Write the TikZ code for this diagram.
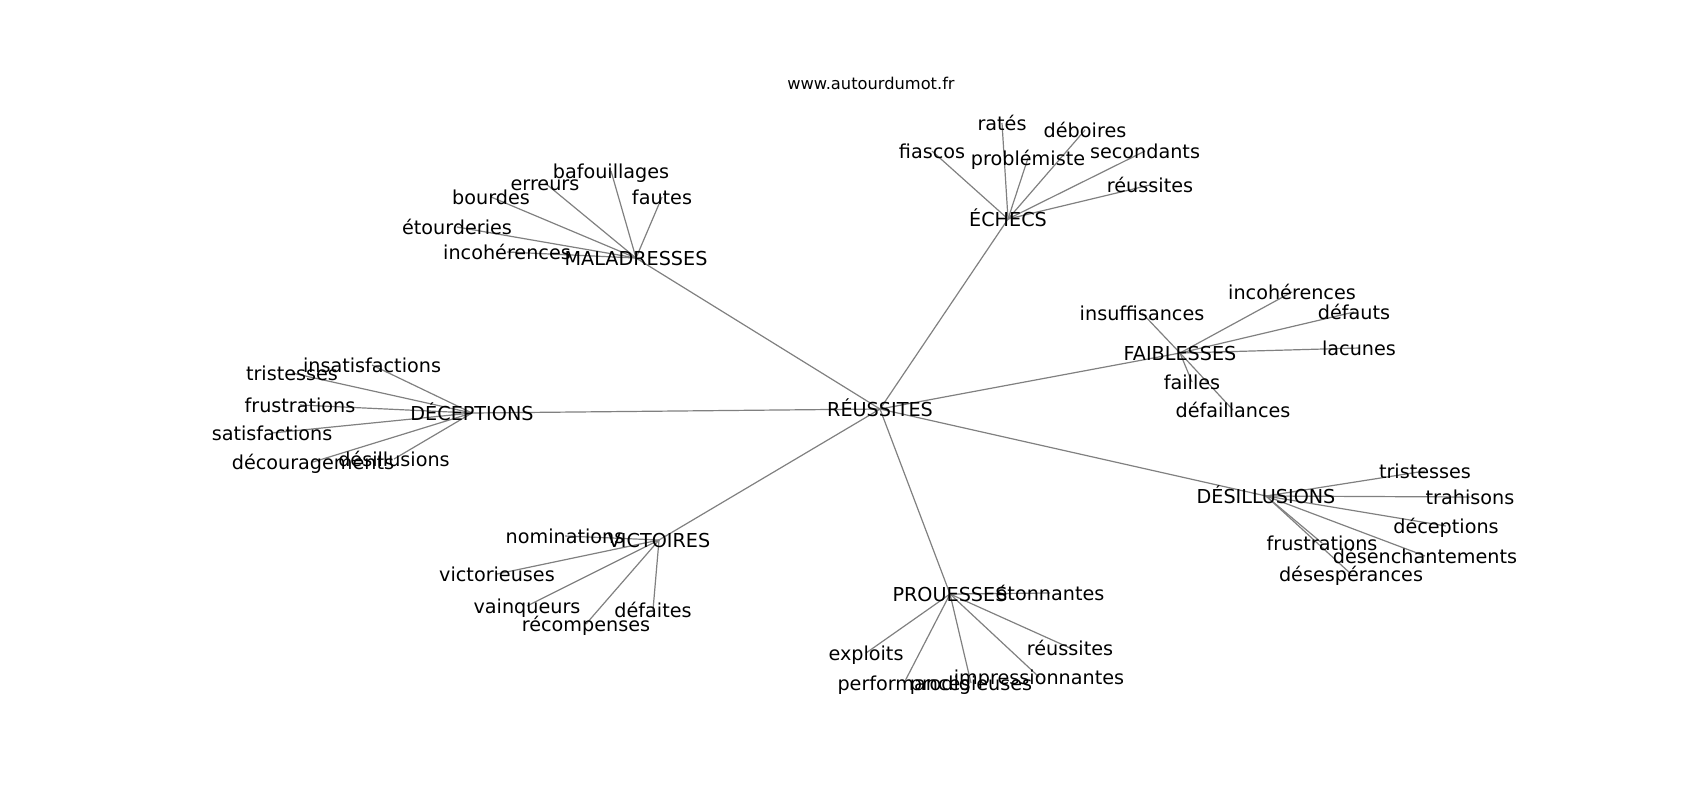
\documentclass[tikz,border=0pt]{standalone}
\usepackage{fontspec}
\setmainfont{DejaVu Sans}
\usetikzlibrary{backgrounds}
\tikzset{
  word/.style={inner sep=0pt, font=\fontsize{9.6}{11}\selectfont, text height=0.73em, text depth=0pt},
  edge/.style={draw=gray, line width=0.6pt},
}
\begin{document}
\begin{tikzpicture}[x=0.5pt,y=-0.5pt]
\useasboundingbox (0,0) rectangle (1700,800);
% title
\node[inner sep=0pt, font=\fontsize{8.13}{10}\selectfont, text height=0.73em, text depth=0pt] (site) at (871,82) {www.autourdumot.fr};
% hub
\node[word] (reu) at (880,409) {RÉUSSITES};
% groups
\node[word] (ech) at (1008,219) {ÉCHECS};
\node[word] (mal) at (636,258) {MALADRESSES};
\node[word] (dec) at (472,413) {DÉCEPTIONS};
\node[word] (fai) at (1180,353) {FAIBLESSES};
\node[word] (des) at (1266,496) {DÉSILLUSIONS};
\node[word] (vic) at (659,540) {VICTOIRES};
\node[word] (pro) at (950,594) {PROUESSES};
% leaves of ECHECS
\node[word] (ech-fia) at (932,151) {fiascos};
\node[word] (ech-rat) at (1002,123) {ratés};
\node[word] (ech-pro) at (1028,158) {problémiste};
\node[word] (ech-deb) at (1085,130) {déboires};
\node[word] (ech-sec) at (1145,151) {secondants};
\node[word] (ech-reu) at (1150,185) {réussites};
% leaves of MALADRESSES
\node[word] (mal-baf) at (611,171) {bafouillages};
\node[word] (mal-err) at (545,183) {erreurs};
\node[word] (mal-fau) at (662,197) {fautes};
\node[word] (mal-bou) at (491,197) {bourdes};
\node[word] (mal-eto) at (457,227) {étourderies};
\node[word] (mal-inc) at (507,252) {incohérences};
% leaves of DECEPTIONS
\node[word] (dec-ins) at (372,365) {insatisfactions};
\node[word] (dec-tri) at (292,373) {tristesses};
\node[word] (dec-fru) at (300,405) {frustrations};
\node[word] (dec-sat) at (272,433) {satisfactions};
\node[word] (dec-dec) at (313,462) {découragements};
\node[word] (dec-des) at (394,459) {désillusions};
% leaves of FAIBLESSES
\node[word] (fai-inc) at (1292,292) {incohérences};
\node[word] (fai-ins) at (1142,313) {insuffisances};
\node[word] (fai-def) at (1354,312) {défauts};
\node[word] (fai-lac) at (1359,348) {lacunes};
\node[word] (fai-fai) at (1192,382) {failles};
\node[word] (fai-dfa) at (1233,410) {défaillances};
% leaves of DESILLUSIONS
\node[word] (des-tri) at (1425,471) {tristesses};
\node[word] (des-tra) at (1470,497) {trahisons};
\node[word] (des-dec) at (1446,526) {déceptions};
\node[word] (des-fru) at (1322,543) {frustrations};
\node[word] (des-den) at (1425,556) {désenchantements};
\node[word] (des-des) at (1351,574) {désespérances};
% leaves of VICTOIRES
\node[word] (vic-nom) at (565,536) {nominations};
\node[word] (vic-vic) at (497,574) {victorieuses};
\node[word] (vic-vai) at (527,606) {vainqueurs};
\node[word] (vic-rec) at (586,624) {récompenses};
\node[word] (vic-def) at (653,610) {défaites};
% leaves of PROUESSES
\node[word] (pro-eto) at (1050,593) {étonnantes};
\node[word] (pro-exp) at (866,653) {exploits};
\node[word] (pro-reu) at (1070,648) {réussites};
\node[word] (pro-per) at (904,683) {performances};
\node[word] (pro-pro) at (971,683) {prodigieuses};
\node[word] (pro-imp) at (1039,677) {impressionnantes};
% edges
\begin{scope}[on background layer]
\draw[edge] (reu.center) -- (ech.center);
\draw[edge] (reu.center) -- (mal.center);
\draw[edge] (reu.center) -- (dec.center);
\draw[edge] (reu.center) -- (fai.center);
\draw[edge] (reu.center) -- (des.center);
\draw[edge] (reu.center) -- (vic.center);
\draw[edge] (reu.center) -- (pro.center);
\draw[edge] (ech.center) -- (ech-fia.center);
\draw[edge] (ech.center) -- (ech-rat.center);
\draw[edge] (ech.center) -- (ech-pro.center);
\draw[edge] (ech.center) -- (ech-deb.center);
\draw[edge] (ech.center) -- (ech-sec.center);
\draw[edge] (ech.center) -- (ech-reu.center);
\draw[edge] (mal.center) -- (mal-baf.center);
\draw[edge] (mal.center) -- (mal-err.center);
\draw[edge] (mal.center) -- (mal-fau.center);
\draw[edge] (mal.center) -- (mal-bou.center);
\draw[edge] (mal.center) -- (mal-eto.center);
\draw[edge] (mal.center) -- (mal-inc.center);
\draw[edge] (dec.center) -- (dec-ins.center);
\draw[edge] (dec.center) -- (dec-tri.center);
\draw[edge] (dec.center) -- (dec-fru.center);
\draw[edge] (dec.center) -- (dec-sat.center);
\draw[edge] (dec.center) -- (dec-dec.center);
\draw[edge] (dec.center) -- (dec-des.center);
\draw[edge] (fai.center) -- (fai-inc.center);
\draw[edge] (fai.center) -- (fai-ins.center);
\draw[edge] (fai.center) -- (fai-def.center);
\draw[edge] (fai.center) -- (fai-lac.center);
\draw[edge] (fai.center) -- (fai-fai.center);
\draw[edge] (fai.center) -- (fai-dfa.center);
\draw[edge] (des.center) -- (des-tri.center);
\draw[edge] (des.center) -- (des-tra.center);
\draw[edge] (des.center) -- (des-dec.center);
\draw[edge] (des.center) -- (des-fru.center);
\draw[edge] (des.center) -- (des-den.center);
\draw[edge] (des.center) -- (des-des.center);
\draw[edge] (vic.center) -- (vic-nom.center);
\draw[edge] (vic.center) -- (vic-vic.center);
\draw[edge] (vic.center) -- (vic-vai.center);
\draw[edge] (vic.center) -- (vic-rec.center);
\draw[edge] (vic.center) -- (vic-def.center);
\draw[edge] (pro.center) -- (pro-eto.center);
\draw[edge] (pro.center) -- (pro-exp.center);
\draw[edge] (pro.center) -- (pro-reu.center);
\draw[edge] (pro.center) -- (pro-per.center);
\draw[edge] (pro.center) -- (pro-pro.center);
\draw[edge] (pro.center) -- (pro-imp.center);
\end{scope}
\end{tikzpicture}
\end{document}
